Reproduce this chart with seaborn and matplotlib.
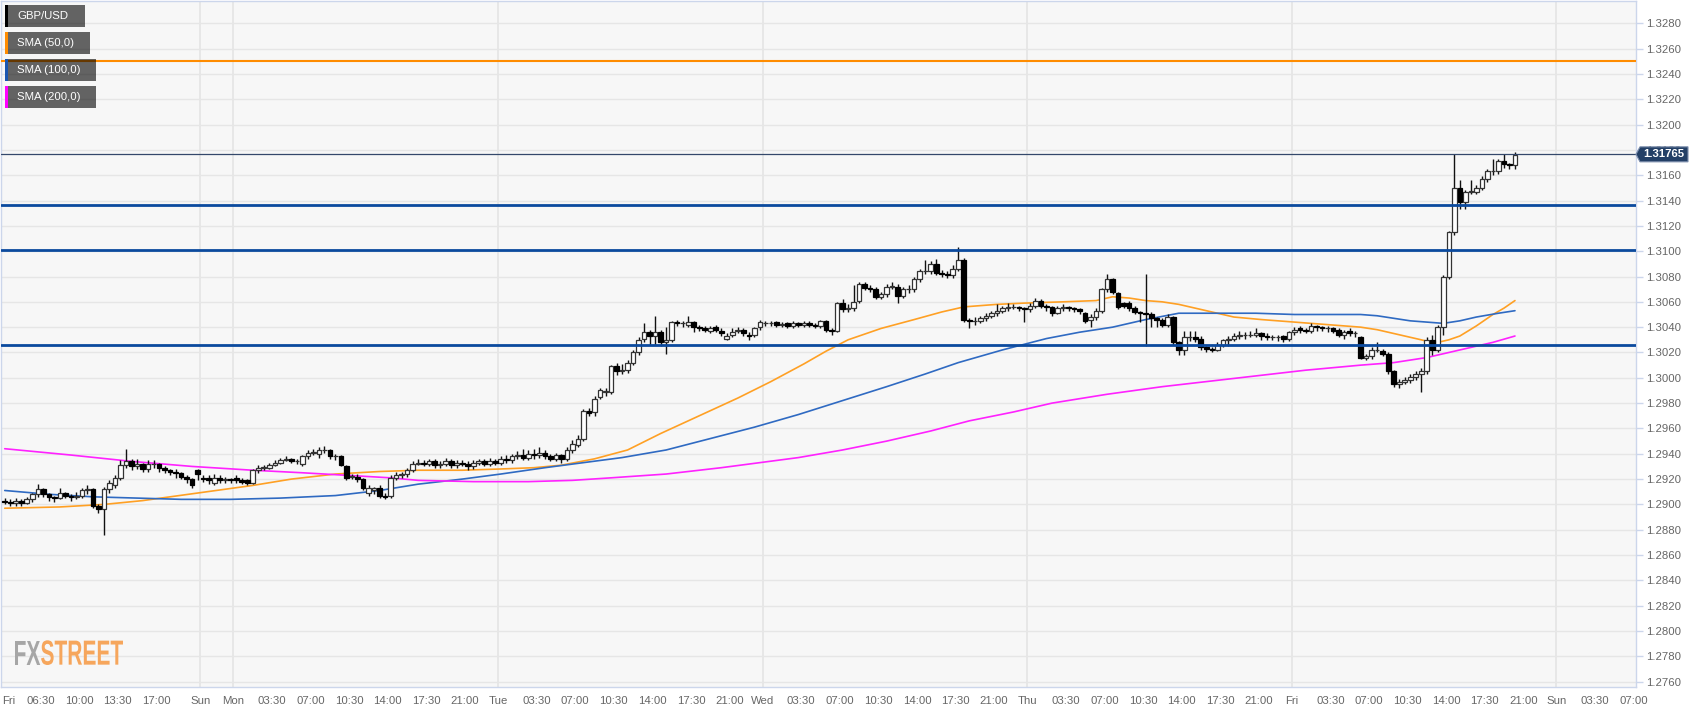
import numpy as np
import pandas as pd
import matplotlib
matplotlib.use("Agg")
import matplotlib.pyplot as plt
import seaborn as sns
from matplotlib.patches import Rectangle, Polygon, PathPatch
from matplotlib.textpath import TextPath
from matplotlib.font_manager import FontProperties
from matplotlib.transforms import Affine2D

# GBP/USD 30-minute candles (bar 0 = Fri 03:00)
opens = [
    1.2903, 1.2902, 1.2901, 1.2903, 1.2901, 1.2904, 1.2908, 1.2912, 1.2908, 1.2906,
    1.2905, 1.2909, 1.2907, 1.2906, 1.2907, 1.2911, 1.2912, 1.2899, 1.2896, 1.2912,
    1.2915, 1.2921, 1.2931, 1.2934, 1.2930, 1.2932, 1.2928, 1.2932, 1.2932, 1.2929,
    1.2927, 1.2926, 1.2925, 1.2922, 1.2920, 1.2927, 1.2921, 1.2921, 1.2917, 1.2921,
    1.2919, 1.2920, 1.2921, 1.2919, 1.2919, 1.2917, 1.2927, 1.2929, 1.2929, 1.2931,
    1.2933, 1.2935, 1.2936, 1.2934, 1.2932, 1.2938, 1.2941, 1.2940, 1.2943, 1.2943,
    1.2938, 1.2938, 1.2930, 1.2922, 1.2922, 1.2920, 1.2909, 1.2911, 1.2913, 1.2907,
    1.2907, 1.2921, 1.2923, 1.2924, 1.2927, 1.2932, 1.2933, 1.2932, 1.2934, 1.2931,
    1.2932, 1.2934, 1.2931, 1.2933, 1.2932, 1.2930, 1.2933, 1.2934, 1.2932, 1.2934,
    1.2933, 1.2936, 1.2935, 1.2938, 1.2939, 1.2937, 1.2940, 1.2939, 1.2941, 1.2938,
    1.2936, 1.2939, 1.2936, 1.2943, 1.2947, 1.2952, 1.2974, 1.2973, 1.2985, 1.2989,
    1.2989, 1.3009, 1.3005, 1.3006, 1.3012, 1.3020, 1.3031, 1.3036, 1.3033, 1.3036,
    1.3028, 1.3030, 1.3044, 1.3043, 1.3042, 1.3044, 1.3040, 1.3039, 1.3037, 1.3040,
    1.3037, 1.3031, 1.3034, 1.3037, 1.3038, 1.3034, 1.3034, 1.3040, 1.3043, 1.3043,
    1.3044, 1.3042, 1.3043, 1.3041, 1.3043, 1.3042, 1.3043, 1.3042, 1.3041, 1.3045,
    1.3038, 1.3037, 1.3059, 1.3054, 1.3055, 1.3061, 1.3074, 1.3071, 1.3070, 1.3064,
    1.3066, 1.3072, 1.3072, 1.3065, 1.3070, 1.3070, 1.3078, 1.3084, 1.3084, 1.3090,
    1.3083, 1.3082, 1.3081, 1.3086, 1.3093, 1.3046, 1.3045, 1.3045, 1.3047, 1.3049,
    1.3051, 1.3053, 1.3055, 1.3056, 1.3056, 1.3055, 1.3054, 1.3057, 1.3061, 1.3057,
    1.3056, 1.3051, 1.3055, 1.3056, 1.3055, 1.3054, 1.3051, 1.3046, 1.3048, 1.3053,
    1.3070, 1.3078, 1.3067, 1.3059, 1.3059, 1.3055, 1.3052, 1.3051, 1.3050, 1.3047,
    1.3046, 1.3042, 1.3048, 1.3028, 1.3022, 1.3032, 1.3032, 1.3031, 1.3024, 1.3023,
    1.3022, 1.3026, 1.3030, 1.3031, 1.3033, 1.3034, 1.3034, 1.3034, 1.3035, 1.3033,
    1.3032, 1.3032, 1.3033, 1.3031, 1.3036, 1.3039, 1.3038, 1.3037, 1.3041, 1.3040,
    1.3039, 1.3039, 1.3038, 1.3034, 1.3037, 1.3035, 1.3032, 1.3016, 1.3017, 1.3022,
    1.3021, 1.3019, 1.3005, 1.2995, 1.2997, 1.2998, 1.3001, 1.3003, 1.3005, 1.3030,
    1.3022, 1.3040, 1.3080, 1.3115, 1.3150, 1.3139, 1.3147, 1.3147, 1.3150, 1.3157,
    1.3163, 1.3163, 1.3171, 1.3169, 1.3168,
]
highs = [
    1.2905, 1.2904, 1.2905, 1.2904, 1.2906, 1.2909, 1.2916, 1.2913, 1.2909, 1.2907,
    1.2913, 1.2910, 1.2908, 1.2910, 1.2913, 1.2915, 1.2913, 1.2900, 1.2914, 1.2919,
    1.2923, 1.2935, 1.2944, 1.2936, 1.2936, 1.2933, 1.2935, 1.2935, 1.2933, 1.2930,
    1.2928, 1.2928, 1.2926, 1.2923, 1.2921, 1.2928, 1.2923, 1.2923, 1.2924, 1.2923,
    1.2922, 1.2921, 1.2923, 1.2921, 1.2920, 1.2928, 1.2931, 1.2931, 1.2933, 1.2935,
    1.2937, 1.2938, 1.2937, 1.2936, 1.2939, 1.2943, 1.2944, 1.2945, 1.2946, 1.2944,
    1.2940, 1.2939, 1.2931, 1.2924, 1.2924, 1.2921, 1.2915, 1.2914, 1.2915, 1.2909,
    1.2923, 1.2926, 1.2926, 1.2929, 1.2934, 1.2936, 1.2935, 1.2936, 1.2936, 1.2934,
    1.2937, 1.2936, 1.2935, 1.2935, 1.2934, 1.2935, 1.2936, 1.2936, 1.2937, 1.2936,
    1.2938, 1.2939, 1.2940, 1.2942, 1.2944, 1.2943, 1.2944, 1.2945, 1.2943, 1.2940,
    1.2941, 1.2940, 1.2945, 1.2951, 1.2955, 1.2975, 1.2976, 1.2986, 1.2992, 1.2992,
    1.3010, 1.3012, 1.3011, 1.3014, 1.3022, 1.3032, 1.3043, 1.3038, 1.3049, 1.3038,
    1.3040, 1.3045, 1.3046, 1.3045, 1.3049, 1.3045, 1.3042, 1.3041, 1.3041, 1.3042,
    1.3039, 1.3035, 1.3039, 1.3040, 1.3039, 1.3036, 1.3040, 1.3046, 1.3045, 1.3045,
    1.3045, 1.3044, 1.3044, 1.3045, 1.3044, 1.3045, 1.3045, 1.3043, 1.3046, 1.3046,
    1.3039, 1.3060, 1.3062, 1.3058, 1.3073, 1.3076, 1.3076, 1.3073, 1.3072, 1.3068,
    1.3074, 1.3076, 1.3074, 1.3072, 1.3073, 1.3080, 1.3086, 1.3093, 1.3092, 1.3094,
    1.3085, 1.3084, 1.3089, 1.3103, 1.3095, 1.3047, 1.3048, 1.3049, 1.3051, 1.3053,
    1.3058, 1.3057, 1.3059, 1.3058, 1.3057, 1.3056, 1.3059, 1.3063, 1.3062, 1.3058,
    1.3057, 1.3057, 1.3058, 1.3057, 1.3056, 1.3055, 1.3052, 1.3050, 1.3055, 1.3071,
    1.3082, 1.3079, 1.3068, 1.3060, 1.3061, 1.3057, 1.3053, 1.3082, 1.3052, 1.3048,
    1.3047, 1.3050, 1.3049, 1.3029, 1.3037, 1.3037, 1.3037, 1.3033, 1.3025, 1.3024,
    1.3028, 1.3031, 1.3033, 1.3035, 1.3037, 1.3036, 1.3037, 1.3039, 1.3036, 1.3035,
    1.3034, 1.3034, 1.3034, 1.3037, 1.3040, 1.3041, 1.3039, 1.3043, 1.3042, 1.3041,
    1.3041, 1.3040, 1.3039, 1.3038, 1.3039, 1.3037, 1.3033, 1.3019, 1.3024, 1.3028,
    1.3023, 1.3020, 1.3006, 1.2999, 1.3001, 1.3003, 1.3005, 1.3008, 1.3032, 1.3034,
    1.3042, 1.3081, 1.3116, 1.3177, 1.3156, 1.3148, 1.3156, 1.3152, 1.3159, 1.3165,
    1.3173, 1.3173, 1.3177, 1.3170, 1.3178,
]
lows = [
    1.2900, 1.2899, 1.2899, 1.2899, 1.2900, 1.2902, 1.2906, 1.2906, 1.2903, 1.2902,
    1.2904, 1.2905, 1.2903, 1.2904, 1.2905, 1.2908, 1.2897, 1.2893, 1.2876, 1.2909,
    1.2913, 1.2919, 1.2929, 1.2927, 1.2928, 1.2926, 1.2926, 1.2929, 1.2926, 1.2925,
    1.2923, 1.2921, 1.2920, 1.2917, 1.2913, 1.2919, 1.2918, 1.2916, 1.2915, 1.2917,
    1.2917, 1.2917, 1.2917, 1.2916, 1.2915, 1.2916, 1.2925, 1.2927, 1.2928, 1.2930,
    1.2932, 1.2934, 1.2933, 1.2932, 1.2930, 1.2936, 1.2939, 1.2937, 1.2941, 1.2936,
    1.2935, 1.2930, 1.2919, 1.2920, 1.2918, 1.2911, 1.2907, 1.2908, 1.2905, 1.2904,
    1.2905, 1.2919, 1.2921, 1.2922, 1.2926, 1.2931, 1.2930, 1.2930, 1.2929, 1.2929,
    1.2930, 1.2929, 1.2929, 1.2930, 1.2927, 1.2928, 1.2931, 1.2930, 1.2930, 1.2931,
    1.2931, 1.2933, 1.2933, 1.2936, 1.2935, 1.2935, 1.2936, 1.2937, 1.2936, 1.2934,
    1.2934, 1.2933, 1.2934, 1.2941, 1.2945, 1.2950, 1.2970, 1.2970, 1.2983, 1.2986,
    1.2987, 1.3002, 1.3003, 1.3004, 1.3010, 1.3018, 1.3028, 1.3026, 1.3026, 1.3025,
    1.3019, 1.3028, 1.3041, 1.3040, 1.3040, 1.3036, 1.3037, 1.3036, 1.3035, 1.3036,
    1.3033, 1.3030, 1.3032, 1.3035, 1.3033, 1.3030, 1.3032, 1.3038, 1.3041, 1.3041,
    1.3040, 1.3040, 1.3039, 1.3039, 1.3040, 1.3040, 1.3040, 1.3039, 1.3039, 1.3036,
    1.3034, 1.3036, 1.3052, 1.3052, 1.3053, 1.3059, 1.3069, 1.3068, 1.3062, 1.3062,
    1.3064, 1.3070, 1.3059, 1.3063, 1.3067, 1.3068, 1.3076, 1.3082, 1.3082, 1.3081,
    1.3080, 1.3079, 1.3079, 1.3084, 1.3044, 1.3039, 1.3042, 1.3043, 1.3045, 1.3047,
    1.3049, 1.3051, 1.3053, 1.3054, 1.3053, 1.3044, 1.3052, 1.3055, 1.3055, 1.3053,
    1.3049, 1.3050, 1.3053, 1.3053, 1.3052, 1.3050, 1.3043, 1.3040, 1.3046, 1.3051,
    1.3068, 1.3066, 1.3054, 1.3055, 1.3053, 1.3050, 1.3044, 1.3025, 1.3040, 1.3040,
    1.3040, 1.3040, 1.3026, 1.3018, 1.3018, 1.3029, 1.3028, 1.3022, 1.3020, 1.3020,
    1.3021, 1.3024, 1.3025, 1.3029, 1.3031, 1.3031, 1.3032, 1.3032, 1.3030, 1.3030,
    1.3030, 1.3029, 1.3028, 1.3029, 1.3034, 1.3035, 1.3035, 1.3035, 1.3037, 1.3037,
    1.3036, 1.3035, 1.3032, 1.3031, 1.3033, 1.3032, 1.3015, 1.3014, 1.3015, 1.3020,
    1.3017, 1.3003, 1.2993, 1.2992, 1.2995, 1.2996, 1.2998, 1.2989, 1.3003, 1.3018,
    1.3020, 1.3034, 1.3078, 1.3113, 1.3133, 1.3133, 1.3145, 1.3145, 1.3148, 1.3155,
    1.3160, 1.3161, 1.3166, 1.3165, 1.3165,
]
closes = [
    1.2902, 1.2901, 1.2903, 1.2901, 1.2904, 1.2908, 1.2912, 1.2908, 1.2906, 1.2905,
    1.2909, 1.2907, 1.2906, 1.2907, 1.2911, 1.2912, 1.2899, 1.2896, 1.2912, 1.2917,
    1.2921, 1.2931, 1.2934, 1.2930, 1.2932, 1.2928, 1.2932, 1.2932, 1.2929, 1.2927,
    1.2926, 1.2925, 1.2922, 1.2920, 1.2915, 1.2924, 1.2920, 1.2919, 1.2921, 1.2919,
    1.2920, 1.2919, 1.2919, 1.2918, 1.2917, 1.2927, 1.2929, 1.2929, 1.2931, 1.2933,
    1.2935, 1.2936, 1.2934, 1.2934, 1.2938, 1.2941, 1.2941, 1.2943, 1.2943, 1.2938,
    1.2938, 1.2931, 1.2921, 1.2922, 1.2920, 1.2913, 1.2913, 1.2913, 1.2907, 1.2906,
    1.2921, 1.2923, 1.2924, 1.2927, 1.2932, 1.2933, 1.2932, 1.2934, 1.2931, 1.2932,
    1.2934, 1.2931, 1.2933, 1.2932, 1.2930, 1.2933, 1.2934, 1.2932, 1.2934, 1.2933,
    1.2936, 1.2935, 1.2938, 1.2939, 1.2937, 1.2940, 1.2939, 1.2941, 1.2938, 1.2936,
    1.2939, 1.2936, 1.2943, 1.2948, 1.2952, 1.2974, 1.2972, 1.2983, 1.2990, 1.2989,
    1.3009, 1.3005, 1.3006, 1.3012, 1.3020, 1.3030, 1.3036, 1.3033, 1.3036, 1.3028,
    1.3030, 1.3044, 1.3043, 1.3043, 1.3044, 1.3040, 1.3039, 1.3038, 1.3039, 1.3038,
    1.3035, 1.3033, 1.3036, 1.3038, 1.3035, 1.3033, 1.3039, 1.3044, 1.3043, 1.3043,
    1.3042, 1.3042, 1.3041, 1.3043, 1.3042, 1.3043, 1.3042, 1.3041, 1.3045, 1.3038,
    1.3037, 1.3059, 1.3054, 1.3055, 1.3060, 1.3074, 1.3071, 1.3070, 1.3064, 1.3066,
    1.3072, 1.3072, 1.3065, 1.3070, 1.3070, 1.3078, 1.3084, 1.3084, 1.3090, 1.3083,
    1.3082, 1.3081, 1.3086, 1.3093, 1.3046, 1.3045, 1.3045, 1.3047, 1.3049, 1.3051,
    1.3053, 1.3055, 1.3056, 1.3056, 1.3055, 1.3054, 1.3057, 1.3061, 1.3057, 1.3056,
    1.3051, 1.3055, 1.3056, 1.3055, 1.3054, 1.3053, 1.3045, 1.3048, 1.3053, 1.3070,
    1.3078, 1.3068, 1.3056, 1.3057, 1.3055, 1.3052, 1.3051, 1.3050, 1.3047, 1.3046,
    1.3042, 1.3048, 1.3028, 1.3022, 1.3032, 1.3032, 1.3031, 1.3024, 1.3023, 1.3022,
    1.3026, 1.3030, 1.3031, 1.3033, 1.3034, 1.3034, 1.3034, 1.3035, 1.3033, 1.3032,
    1.3032, 1.3032, 1.3031, 1.3036, 1.3038, 1.3038, 1.3037, 1.3041, 1.3040, 1.3039,
    1.3039, 1.3037, 1.3034, 1.3036, 1.3035, 1.3035, 1.3016, 1.3017, 1.3022, 1.3022,
    1.3019, 1.3005, 1.2995, 1.2997, 1.2998, 1.3001, 1.3003, 1.3005, 1.3030, 1.3022,
    1.3040, 1.3080, 1.3115, 1.3150, 1.3139, 1.3147, 1.3147, 1.3150, 1.3157, 1.3163,
    1.3163, 1.3171, 1.3169, 1.3168, 1.3176,
]

# moving averages read at sample bars
sma50_bar = [0, 10, 18, 25, 35, 45, 52, 60, 68, 75, 83, 90, 96, 101, 107, 113, 119,
             126, 133, 139, 145, 149, 153, 159, 165, 170, 174, 180, 185, 192, 198,
             201, 204, 207, 210, 213, 218, 223, 228, 234, 240, 246, 249, 252, 255,
             258, 260, 262, 264, 267, 270, 272, 274]
sma50_val = [1.2897, 1.2898, 1.2900, 1.2903, 1.2909, 1.2915, 1.2920, 1.2924, 1.2926,
             1.2927, 1.2927, 1.2928, 1.2929, 1.2931, 1.2936, 1.2943, 1.2956, 1.2970,
             1.2984, 1.2997, 1.3011, 1.3021, 1.3030, 1.3039, 1.3046, 1.3052, 1.3056,
             1.3058, 1.3059, 1.3060, 1.3061, 1.3064, 1.3063, 1.3061, 1.3060, 1.3058,
             1.3053, 1.3048, 1.3046, 1.3044, 1.3042, 1.3040, 1.3038, 1.3035, 1.3032,
             1.3029, 1.3028, 1.3030, 1.3033, 1.3041, 1.3050, 1.3055, 1.3061]
sma100_bar = [0, 8, 16, 24, 32, 41, 50, 60, 68, 75, 83, 90, 98, 105, 112, 120, 128,
              136, 144, 152, 160, 167, 173, 181, 189, 195, 201, 207, 213, 220, 227,
              234, 240, 246, 249, 252, 255, 258, 261, 264, 267, 271, 274]
sma100_val = [1.2911, 1.2908, 1.2906, 1.2905, 1.2904, 1.2904, 1.2905, 1.2907, 1.2911,
              1.2916, 1.2920, 1.2924, 1.2929, 1.2933, 1.2937, 1.2943, 1.2952, 1.2961,
              1.2971, 1.2982, 1.2993, 1.3003, 1.3012, 1.3022, 1.3031, 1.3036, 1.3040,
              1.3046, 1.3051, 1.3051, 1.3051, 1.3050, 1.3050, 1.3050, 1.3049, 1.3047,
              1.3045, 1.3044, 1.3043, 1.3045, 1.3048, 1.3051, 1.3053]
sma200_bar = [0, 12, 23, 34, 45, 54, 62, 70, 75, 85, 95, 103, 110, 120, 130, 137, 144,
              152, 160, 168, 175, 183, 190, 200, 210, 222, 236, 246, 252, 258, 262,
              266, 270, 274]
sma200_val = [1.2944, 1.2939, 1.2934, 1.2930, 1.2927, 1.2925, 1.2923, 1.2921, 1.2919,
              1.2918, 1.2918, 1.2919, 1.2921, 1.2924, 1.2929, 1.2933, 1.2937, 1.2943,
              1.2950, 1.2958, 1.2966, 1.2973, 1.2980, 1.2987, 1.2993, 1.2999, 1.3006,
              1.3010, 1.3012, 1.3016, 1.3020, 1.3024, 1.3028, 1.3033]

levels_blue = [1.31365, 1.3101, 1.3026]
level_orange = 1.3250
last_price = 1.31765

# x axis: hours since Fri 03:00 with the weekend removed
tick_hours = [0, 3.5, 7, 10.5, 14, 18, 21, 24.5, 28, 31.5, 35, 38.5, 42, 45, 48.5, 52,
              55.5, 59, 62.5, 66, 69, 72.5, 76, 79.5, 83, 86.5, 90, 93, 96.5, 100,
              103.5, 107, 110.5, 114, 117, 120.5, 124, 127.5, 131, 134.5, 138, 141,
              144.5, 148]
tick_text = ["Fri", "06:30", "10:00", "13:30", "17:00", "Sun", "Mon", "03:30", "07:00",
             "10:30", "14:00", "17:30", "21:00", "Tue", "03:30", "07:00", "10:30",
             "14:00", "17:30", "21:00", "Wed", "03:30", "07:00", "10:30", "14:00",
             "17:30", "21:00", "Thu", "03:30", "07:00", "10:30", "14:00", "17:30",
             "21:00", "Fri", "03:30", "07:00", "10:30", "14:00", "17:30", "21:00",
             "Sun", "03:30", "07:00"]
day_hours = [18, 21, 45, 69, 93, 117, 141]

legend_names = ["GBP/USD", "SMA (50,0)", "SMA (100,0)", "SMA (200,0)"]

# ---------------------------------------------------------------------------
sns.set_style("white")
plt.rcParams["font.family"] = ["Liberation Sans", "DejaVu Sans"]

W, H = 1707, 712
fig = plt.figure(figsize=(W / 100, H / 100), dpi=100)
fig.patch.set_facecolor("white")
ax = fig.add_axes([1 / W, 25 / H, 1635 / W, 686 / H])
ax.set_facecolor("#f7f7f7")

candles = pd.DataFrame({"open": opens, "high": highs, "low": lows, "close": closes})
candles["x"] = 0.25 + 0.5 * np.arange(len(candles))
up = candles["close"] >= candles["open"]

price_ticks = np.round(np.arange(1.2760, 1.32801, 0.002), 4)
ax.set_yticks(price_ticks)
ax.grid(axis="y", color="#e6e6e6", lw=1)
ax.set_axisbelow(True)
for h in day_hours:
    ax.axvline(h, color="#e6e6e6", lw=1.3, zorder=0.5)

# moving averages
for bars, vals, col in [(sma50_bar, sma50_val, "#ffa024"),
                        (sma100_bar, sma100_val, "#2f6ac2"),
                        (sma200_bar, sma200_val, "#ff22ff")]:
    sns.lineplot(x=0.25 + 0.5 * np.array(bars), y=vals, ax=ax, color=col, lw=1.2,
                 estimator=None, zorder=2)

# candles
body_w = 0.42
ax.vlines(candles["x"], candles["low"], candles["high"], color="#111111", lw=1.0, zorder=3)
hgt = (candles["close"] - candles["open"]).abs().clip(lower=0.00002)
bot = candles[["open", "close"]].min(axis=1)
ax.bar(candles["x"][up], hgt[up], bottom=bot[up], width=body_w, color="white",
       edgecolor="#333333", lw=0.9, zorder=4)
ax.bar(candles["x"][~up], hgt[~up], bottom=bot[~up], width=body_w, color="black",
       edgecolor="black", lw=0.9, zorder=4)

# key levels
ax.axhline(level_orange, color="#ff8c00", lw=1.5, zorder=5)
for lv in levels_blue:
    ax.axhline(lv, color="#0b4a9e", lw=2.0, zorder=5)
ax.axhline(last_price, color="#34486b", lw=0.9, zorder=5)

ax.set_xlim(-0.09, 148.23)
ax.set_ylim(1.27558, 1.32976)

ax.yaxis.tick_right()
ax.set_yticklabels([f"{v:.4f}" for v in price_ticks])
ax.set_xticks(tick_hours)
ax.set_xticklabels(tick_text)
ax.get_xticklabels()[0].set_ha("left")
ax.tick_params(axis="both", length=5, width=1, color="#ccd6eb", labelcolor="#666666",
               labelsize=8.2)
ax.tick_params(axis="y", pad=2.5)
ax.tick_params(axis="x", pad=1.5)
for sp in ax.spines.values():
    sp.set_color("#ccd6eb")
    sp.set_linewidth(1)
ax.set_xlabel("")
ax.set_ylabel("")


def fx(px):
    return px / W


def fy(py):
    return 1 - py / H


# legend boxes (top left)
legend_cols = ["#000000", "#ff8c00", "#1a56b0", "#ff00ff"]
box_w = [80, 85, 91, 91]
box_top = [5, 32, 59, 86]
for name, col, bw, top in zip(legend_names, legend_cols, box_w, box_top):
    fig.add_artist(Rectangle((fx(5), fy(top + 22)), bw / W, 22 / H, transform=fig.transFigure,
                             fc="black", alpha=0.6, lw=0, zorder=10))
    fig.add_artist(Rectangle((fx(5), fy(top + 22)), 3 / W, 22 / H, transform=fig.transFigure,
                             fc=col, lw=0, zorder=11))
    fig.text(fx(17), fy(top + 11), name, color="white", fontsize=8.2, va="center",
             ha="left", zorder=12)

# last price box on the right axis
y_px = ax.transData.transform((0, last_price))[1]
x_px = ax.transAxes.transform((1, 0))[0]
pts = [(x_px, y_px), (x_px + 4, y_px + 7.5), (x_px + 52, y_px + 7.5),
       (x_px + 52, y_px - 7.5), (x_px + 4, y_px - 7.5)]
fig.add_artist(Polygon([(px / W, py / H) for px, py in pts], closed=True,
                       transform=fig.transFigure, fc="#233f66", ec="#7d8fad", lw=0.8,
                       zorder=10))
fig.text((x_px + 28) / W, y_px / H, f"{last_price:.5f}", color="white", fontsize=8.2,
         fontweight="bold", ha="center", va="center", zorder=11)

# FXSTREET watermark, drawn as condensed glyph outlines
fp = FontProperties(family="Liberation Sans", weight="bold")
p_fx = TextPath((0, 0), "FX", size=100, prop=fp)
p_st = TextPath((0, 0), "STREET", size=100, prop=fp)
e_fx, e_st = p_fx.get_extents(), p_st.get_extents()
gap = 4
total_w = e_fx.width + gap + e_st.width
sx = 108 / total_w
sy = 24 / e_fx.height
base_x, base_y = 15, H - 665
t_fx = Affine2D().translate(-e_fx.x0, -e_fx.y0).scale(sx, sy).translate(base_x, base_y)
t_st = (Affine2D().translate(-e_st.x0 + e_fx.width + gap, -e_st.y0)
        .scale(sx, sy).translate(base_x, base_y))
fig.add_artist(PathPatch(p_fx, transform=t_fx, fc="#a6a6a6", lw=0, zorder=10))
fig.add_artist(PathPatch(p_st, transform=t_st, fc="#f6a65c", lw=0, zorder=10))

fig.savefig("out.png", dpi=100, facecolor="white")
